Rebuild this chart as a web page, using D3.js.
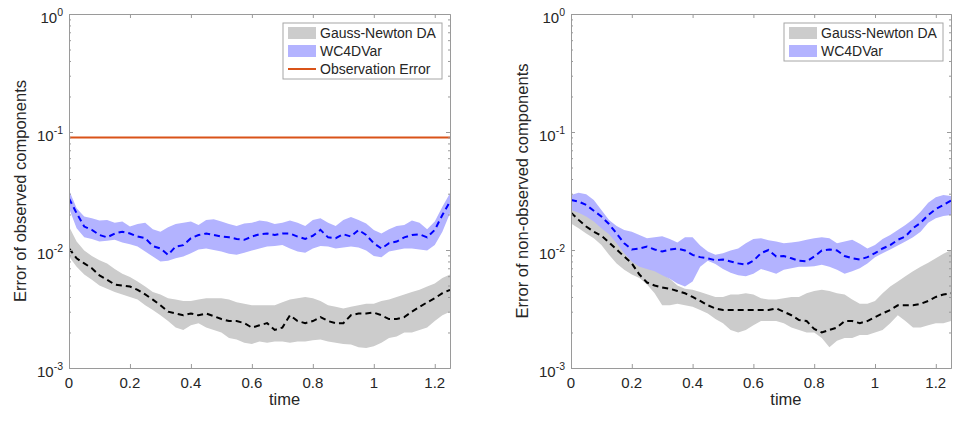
<!DOCTYPE html>
<html><head><meta charset="utf-8">
<script src="https://cdn.jsdelivr.net/npm/d3@7"></script>
<style>
body{margin:0;background:#fff}
text{font-family:"Liberation Sans",Arial,Helvetica,sans-serif;fill:#262626}
</style>
</head><body>
<svg id="chart" width="960" height="421"></svg>
<script>
// ---- data ----
const time = [0,0.025,0.05,0.075,0.1,0.125,0.15,0.175,0.2,0.225,0.25,0.275,0.3,0.325,0.35,0.375,0.4,0.425,0.45,0.475,0.5,0.525,0.55,0.575,0.6,0.625,0.65,0.675,0.7,0.725,0.75,0.775,0.8,0.825,0.85,0.875,0.9,0.925,0.95,0.975,1,1.025,1.05,1.075,1.1,1.125,1.15,1.175,1.2,1.225,1.25];
const observationError = 0.09;

// Left panel: observed components
const obsGNMean = [0.0103,0.0085,0.0077,0.0070,0.0061,0.0056,0.0051,0.0050,0.0049,0.0046,0.0042,0.0038,0.0034,0.0030,0.0029,0.0028,0.0029,0.0028,0.0029,0.00275,0.0026,0.0025,0.0025,0.0024,0.0022,0.0023,0.0024,0.0021,0.0022,0.0028,0.0025,0.0024,0.0025,0.0027,0.0025,0.0024,0.0024,0.0028,0.0029,0.0029,0.00295,0.0028,0.0026,0.0026,0.0027,0.0030,0.0033,0.0036,0.0039,0.0043,0.0046];
const obsGNLow = [0.0088,0.0072,0.0062,0.0056,0.0050,0.0047,0.0044,0.0042,0.0040,0.0038,0.0034,0.0031,0.0028,0.0025,0.0022,0.0021,0.0023,0.0024,0.0022,0.0021,0.0020,0.0018,0.00174,0.00164,0.0016,0.00168,0.00164,0.00168,0.00168,0.00164,0.00168,0.00168,0.00172,0.00174,0.00168,0.00164,0.0016,0.00158,0.0015,0.00148,0.00153,0.00164,0.0018,0.00185,0.0020,0.0020,0.0021,0.0022,0.0025,0.0028,0.0030];
const obsGNHigh = [0.0158,0.0118,0.0099,0.0089,0.0082,0.0077,0.0069,0.0063,0.0059,0.0054,0.0049,0.0044,0.0042,0.0039,0.0038,0.0037,0.0037,0.0038,0.0039,0.0039,0.0039,0.0038,0.0036,0.0035,0.0034,0.0034,0.0034,0.0034,0.0036,0.0038,0.0039,0.0040,0.0039,0.0037,0.0034,0.0033,0.0032,0.0033,0.0034,0.0035,0.0035,0.0037,0.0038,0.0040,0.0042,0.0044,0.0046,0.0049,0.0052,0.0058,0.0062];
const obsWCMean = [0.0274,0.0205,0.0158,0.0148,0.0134,0.0128,0.0138,0.0143,0.0138,0.0130,0.0126,0.0108,0.0103,0.0091,0.0107,0.0110,0.0126,0.0134,0.0138,0.0134,0.0130,0.0128,0.0124,0.0122,0.0130,0.0136,0.0138,0.0134,0.0138,0.0138,0.0130,0.0124,0.0132,0.0148,0.0128,0.0126,0.0136,0.0130,0.0148,0.0134,0.0114,0.0103,0.0114,0.0118,0.0128,0.0134,0.0136,0.0128,0.0148,0.0198,0.0257];
const obsWCLow = [0.0226,0.0153,0.0128,0.0124,0.0118,0.0120,0.0122,0.0116,0.0112,0.0107,0.0097,0.0088,0.0080,0.0081,0.0085,0.0088,0.0094,0.0101,0.0103,0.0100,0.0097,0.0093,0.0091,0.0095,0.0099,0.0103,0.0107,0.0108,0.0110,0.0103,0.0097,0.0095,0.0103,0.0108,0.0107,0.0103,0.0105,0.0107,0.0105,0.0099,0.0089,0.0087,0.0097,0.0100,0.0103,0.0103,0.0101,0.0099,0.0110,0.0143,0.0205];
const obsWCHigh = [0.0323,0.0226,0.0192,0.0186,0.0178,0.0180,0.0170,0.0174,0.0158,0.0166,0.0170,0.0150,0.0143,0.0156,0.0166,0.0170,0.0174,0.0163,0.0180,0.0182,0.0174,0.0166,0.0160,0.0168,0.0170,0.0178,0.0174,0.0166,0.0170,0.0178,0.0170,0.0160,0.0180,0.0186,0.0170,0.0160,0.0180,0.0190,0.0180,0.0168,0.0148,0.0138,0.0150,0.0160,0.0163,0.0178,0.0170,0.0150,0.0174,0.0233,0.0302];

// Right panel: non-observed components
const nonGNMean = [0.0207,0.0180,0.0158,0.0143,0.0132,0.0116,0.0101,0.0088,0.0077,0.0062,0.0053,0.0050,0.0048,0.0047,0.0045,0.0043,0.0040,0.0037,0.0034,0.0032,0.0031,0.0031,0.0031,0.0031,0.0031,0.0031,0.0031,0.0032,0.0030,0.0028,0.00255,0.0025,0.00214,0.0020,0.0021,0.0022,0.0025,0.0025,0.0024,0.0025,0.0027,0.0029,0.0031,0.0034,0.0034,0.0034,0.0035,0.0037,0.0040,0.0042,0.0043];
const nonGNLow = [0.0168,0.0153,0.0138,0.0126,0.0110,0.0091,0.0077,0.0068,0.0062,0.0058,0.0051,0.0043,0.0034,0.0034,0.0035,0.0034,0.0033,0.0031,0.0029,0.0026,0.0024,0.0021,0.0020,0.0021,0.0023,0.0025,0.0025,0.0025,0.0024,0.0022,0.0021,0.0020,0.0020,0.0018,0.0015,0.0017,0.0018,0.0018,0.0019,0.0019,0.0020,0.0021,0.0024,0.0028,0.0025,0.0022,0.0022,0.0023,0.0024,0.0024,0.0025];
const nonGNHigh = [0.0241,0.0218,0.0198,0.0180,0.0160,0.0143,0.0130,0.0118,0.0107,0.0094,0.0082,0.0072,0.0063,0.0057,0.0050,0.0047,0.0046,0.0044,0.0042,0.0040,0.0040,0.0042,0.0042,0.0043,0.0042,0.0039,0.0038,0.0038,0.0039,0.0040,0.0040,0.0043,0.0045,0.0046,0.0045,0.0043,0.0042,0.0038,0.0035,0.0035,0.0037,0.0043,0.0049,0.0054,0.0060,0.0066,0.0072,0.0078,0.0085,0.0093,0.0100];
const nonWCMean = [0.0265,0.0257,0.0241,0.0215,0.0192,0.0166,0.0138,0.0114,0.0101,0.0103,0.0107,0.0101,0.0097,0.0101,0.0103,0.0099,0.0091,0.0087,0.0085,0.0082,0.0083,0.0080,0.0077,0.0075,0.0081,0.0094,0.0100,0.0088,0.0089,0.0085,0.0081,0.0080,0.0088,0.0099,0.0101,0.0099,0.0089,0.0085,0.0083,0.0087,0.0094,0.0103,0.0110,0.0122,0.0130,0.0153,0.0170,0.0198,0.0222,0.0241,0.0262];
const nonWCLow = [0.0218,0.0207,0.0192,0.0174,0.0153,0.0136,0.0114,0.0094,0.0080,0.0072,0.0069,0.0066,0.0061,0.0057,0.0052,0.0049,0.0054,0.0072,0.0081,0.0076,0.0069,0.0064,0.0061,0.0060,0.0063,0.0069,0.0066,0.0063,0.0068,0.0070,0.0072,0.0072,0.0073,0.0075,0.0072,0.0068,0.0063,0.0066,0.0070,0.0077,0.0087,0.0094,0.0101,0.0109,0.0118,0.0128,0.0143,0.0170,0.0186,0.0194,0.0198];
const nonWCHigh = [0.0292,0.0306,0.0297,0.0265,0.0218,0.0180,0.0160,0.0148,0.0143,0.0134,0.0126,0.0128,0.0131,0.0124,0.0116,0.0128,0.0128,0.0109,0.0097,0.0091,0.0094,0.0099,0.0103,0.0114,0.0124,0.0126,0.0121,0.0118,0.0114,0.0116,0.0118,0.0122,0.0126,0.0128,0.0126,0.0114,0.0118,0.0122,0.0113,0.0103,0.0110,0.0124,0.0134,0.0148,0.0163,0.0182,0.0211,0.0252,0.0280,0.0292,0.0287];

const xTickValues = [0,0.2,0.4,0.6,0.8,1,1.2];
const xTickLabels = ["0","0.2","0.4","0.6","0.8","1","1.2"];
const yTickValues = [0.001,0.01,0.1,1];
const yTickExponents = ["-3","-2","-1","0"];
const legendLabels = ["Gauss-Newton DA","WC4DVar","Observation Error"];
const yLabels = ["Error of observed components","Error of non-observed components"];
const xLabel = "time";

// ---- drawing ----
const svg = d3.select("#chart");
svg.append("rect").attr("width",960).attr("height",421).attr("fill","#fff");
const TOP = 14, BOTTOM = 368;
const AXIS = "#9a9a9a";

function drawPanel(o) {
  const x = d3.scaleLinear().domain([0,1.25]).range([o.x0,o.x1]);
  const y = d3.scaleLog().domain([0.001,1]).range([BOTTOM,TOP]);
  const g = svg.append("g");
  const cid = "clip" + o.id;
  svg.append("clipPath").attr("id",cid).append("rect")
    .attr("x",o.x0).attr("y",TOP).attr("width",o.x1-o.x0).attr("height",BOTTOM-TOP);
  const plot = g.append("g").attr("clip-path",`url(#${cid})`);

  const band = (lo,hi) => d3.area()
    .x((d,i)=>x(time[i])).y0((d,i)=>y(lo[i])).y1((d,i)=>y(hi[i]))(time);
  const line = (v) => d3.line().x((d,i)=>x(time[i])).y((d,i)=>y(v[i]))(time);

  plot.append("path").attr("d",band(o.gnLow,o.gnHigh)).attr("fill","#cccccc");
  plot.append("path").attr("d",band(o.wcLow,o.wcHigh)).attr("fill","#b3b3ff");
  plot.append("path").attr("d",line(o.gnMean)).attr("fill","none")
    .attr("stroke","#000").attr("stroke-width",2).attr("stroke-dasharray","6,4");
  plot.append("path").attr("d",line(o.wcMean)).attr("fill","none")
    .attr("stroke","#0000ff").attr("stroke-width",2).attr("stroke-dasharray","6,4");
  if (o.obs) {
    plot.append("path").attr("d",d3.line().x(d=>x(d)).y(()=>y(observationError))([0,1.25]))
      .attr("stroke","#D95319").attr("stroke-width",2);
  }

  const minor = y.ticks().filter(v => !yTickValues.some(m => Math.abs(m-v)/m < 1e-6));
  const style = sel => { sel.selectAll("path,line").attr("stroke",AXIS); sel.selectAll("text").remove(); };
  g.append("g").attr("transform",`translate(0,${BOTTOM})`)
    .call(d3.axisBottom(x).tickValues(xTickValues).tickSizeInner(-4).tickSizeOuter(0).tickFormat("")).call(style);
  g.append("g").attr("transform",`translate(0,${TOP})`)
    .call(d3.axisTop(x).tickValues(xTickValues).tickSizeInner(-4).tickSizeOuter(0).tickFormat("")).call(style);
  g.append("g").attr("transform",`translate(${o.x0},0)`)
    .call(d3.axisLeft(y).tickValues(yTickValues).tickSizeInner(-4).tickSizeOuter(0).tickFormat("")).call(style);
  g.append("g").attr("transform",`translate(${o.x1},0)`)
    .call(d3.axisRight(y).tickValues(yTickValues).tickSizeInner(-4).tickSizeOuter(0).tickFormat("")).call(style);
  g.append("g").attr("transform",`translate(${o.x0},0)`)
    .call(d3.axisLeft(y).tickValues(minor).tickSizeInner(-2).tickSizeOuter(0).tickFormat("")).call(style);
  g.append("g").attr("transform",`translate(${o.x1},0)`)
    .call(d3.axisRight(y).tickValues(minor).tickSizeInner(-2).tickSizeOuter(0).tickFormat("")).call(style);

  // x tick labels
  g.selectAll(".xl").data(xTickValues).enter().append("text")
    .attr("x",d=>x(d)).attr("y",BOTTOM+20).attr("text-anchor","middle")
    .style("font-size","15px").text((d,i)=>xTickLabels[i]);
  // y tick labels 10^n
  yTickValues.forEach((v,i) => {
    const t = g.append("text").attr("x",o.x0-6).attr("y",y(v)+8.5).attr("text-anchor","end").style("font-size","15px");
    t.append("tspan").text("10");
    t.append("tspan").attr("dy",-7).style("font-size","10.5px").text(yTickExponents[i]);
  });
  // axis titles
  g.append("text").attr("x",x(0.707)).attr("y",405).attr("text-anchor","middle")
    .style("font-size","16.5px").text(xLabel);
  g.append("text").attr("transform",`translate(${o.ylx},${(TOP+BOTTOM)/2}) rotate(-90)`)
    .attr("text-anchor","middle").style("font-size","16.5px").text(o.ylabel);

  // legend
  const n = o.obs ? 3 : 2;
  const L = g.append("g");
  L.append("rect").attr("x",o.lx).attr("y",23).attr("width",159).attr("height",n===3?56:38)
    .attr("fill","#fff").attr("stroke","#a6a6a6").attr("stroke-width",1);
  const rows = [33,51,69];
  L.append("rect").attr("x",o.lx+5).attr("y",rows[0]-6).attr("width",28).attr("height",12).attr("fill","#cccccc");
  L.append("rect").attr("x",o.lx+5).attr("y",rows[1]-6).attr("width",28).attr("height",12).attr("fill","#b3b3ff");
  if (o.obs) L.append("line").attr("x1",o.lx+5).attr("x2",o.lx+33).attr("y1",rows[2]).attr("y2",rows[2])
    .attr("stroke","#D95319").attr("stroke-width",2);
  for (let i=0;i<n;i++) {
    L.append("text").attr("x",o.lx+37).attr("y",rows[i]+5).style("font-size","14px").text(legendLabels[i]);
  }
}

drawPanel({id:"L", x0:69, x1:450, obs:true, lx:283, ylx:26, ylabel:yLabels[0],
  gnMean:obsGNMean, gnLow:obsGNLow, gnHigh:obsGNHigh, wcMean:obsWCMean, wcLow:obsWCLow, wcHigh:obsWCHigh});
drawPanel({id:"R", x0:571, x1:951, obs:false, lx:784, ylx:528, ylabel:yLabels[1],
  gnMean:nonGNMean, gnLow:nonGNLow, gnHigh:nonGNHigh, wcMean:nonWCMean, wcLow:nonWCLow, wcHigh:nonWCHigh});
</script>
</body></html>
